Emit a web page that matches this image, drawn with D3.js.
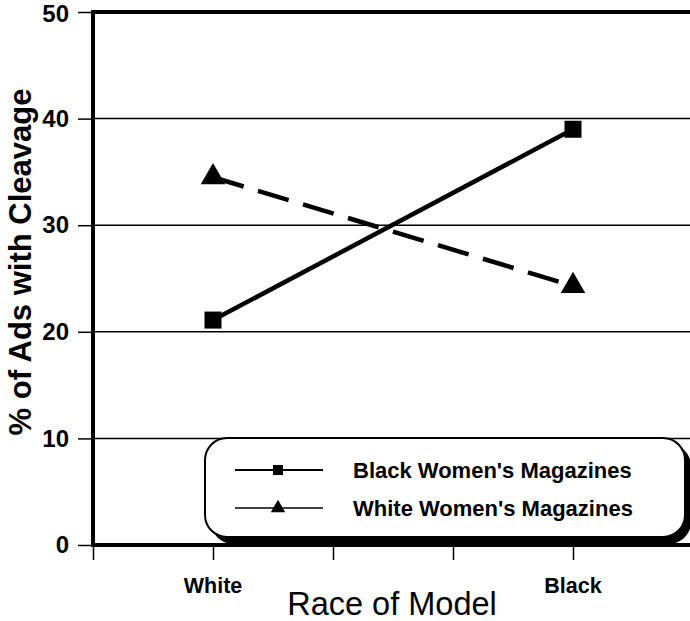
<!DOCTYPE html>
<html><head><meta charset="utf-8">
<script src="https://cdn.jsdelivr.net/npm/d3@7"></script>
<style>body{margin:0;background:#fff}svg{display:block}text{font-family:"Liberation Sans",Arial,sans-serif;fill:#000}</style>
</head><body>
<script>
const categories = ["White", "Black"];
const categoryPositions = [1, 4];
const seriesNames = ["Black Women's Magazines", "White Women's Magazines"];
const blackMagazines = [21.1, 39.0];
const whiteMagazines = [34.5, 24.3];
const yTicks = [0, 10, 20, 30, 40, 50];
const xTicks = [0, 1, 2, 3, 4, 5];

const W = 690, H = 621;
const svg = d3.select("body").append("svg").attr("width", W).attr("height", H);

const x = d3.scaleLinear().domain([0, 5]).range([93, 693]);
const y = d3.scaleLinear().domain([0, 50]).range([545, 12]);

// gridlines
svg.append("g").selectAll("line").data(yTicks.filter(d => d > 0 && d < 50)).join("line")
  .attr("x1", x(0)).attr("x2", W).attr("y1", d => y(d)).attr("y2", d => y(d))
  .attr("stroke", "#000").attr("stroke-width", 1.5);

// y axis
const yAxis = svg.append("g").attr("transform", `translate(${x(0)},0)`)
  .call(d3.axisLeft(y).tickValues(yTicks).tickSize(15).tickPadding(9));
yAxis.select(".domain").remove();
yAxis.selectAll(".tick line").attr("stroke-width", 1.5);
yAxis.selectAll(".tick text").attr("font-size", 24).attr("font-weight", "bold")
  .style("font-family", '"Liberation Sans",Arial,sans-serif');
yAxis.selectAll(".tick").filter(d => d === 50).select("text").attr("dy", "0.4em");

// x axis ticks
const xAxis = svg.append("g").attr("transform", `translate(0,${y(0)})`)
  .call(d3.axisBottom(x).tickValues(xTicks).tickSize(15).tickFormat(""));
xAxis.select(".domain").remove();
xAxis.selectAll(".tick line").attr("stroke-width", 1.5);

// x category labels
svg.append("g").selectAll("text").data(categories).join("text")
  .attr("x", (d, i) => x(categoryPositions[i]))
  .attr("y", 593).attr("text-anchor", "middle")
  .attr("font-size", 21.5).attr("font-weight", "bold").text(d => d);

// frame: left & top thick
svg.append("line").attr("x1", x(0)).attr("x2", x(0)).attr("y1", y(50) - 2).attr("y2", y(0) + 2)
  .attr("stroke", "#000").attr("stroke-width", 4);
svg.append("line").attr("x1", x(0) - 2).attr("x2", W).attr("y1", y(50)).attr("y2", y(50))
  .attr("stroke", "#000").attr("stroke-width", 4);

// legend
const lg = svg.append("g");
lg.append("rect").attr("x", 211).attr("y", 444).attr("width", 480).attr("height", 100)
  .attr("rx", 22).attr("fill", "#000");
lg.append("rect").attr("x", 205).attr("y", 438).attr("width", 480).attr("height", 99)
  .attr("rx", 22).attr("fill", "#fff").attr("stroke", "#000").attr("stroke-width", 2);

// bottom axis line
svg.append("line").attr("x1", x(0) - 2).attr("x2", W).attr("y1", y(0)).attr("y2", y(0))
  .attr("stroke", "#000").attr("stroke-width", 4);

const legendRows = [
  {name: seriesNames[0], sym: d3.symbolSquare, yy: 470, sw: 2},
  {name: seriesNames[1], sym: d3.symbolTriangle, yy: 508, sw: 1.5}
];
legendRows.forEach(r => {
  lg.append("line").attr("x1", 235).attr("x2", 323).attr("y1", r.yy).attr("y2", r.yy)
    .attr("stroke", "#000").attr("stroke-width", r.sw);
  lg.append("path").attr("d", d3.symbol().type(r.sym).size(r.sym === d3.symbolSquare ? 100 : 90)())
    .attr("transform", `translate(278,${r.yy})`).attr("fill", "#000");
  lg.append("text").attr("x", 353).attr("y", r.yy + 7.5).attr("font-size", 22)
    .attr("font-weight", "bold").text(r.name);
});

// series lines
const line = d3.line().x((d, i) => x(categoryPositions[i])).y(d => y(d));
svg.append("path").datum(whiteMagazines).attr("d", line).attr("fill", "none")
  .attr("stroke", "#000").attr("stroke-width", 4.5).attr("stroke-dasharray", "32,15");
svg.append("path").datum(blackMagazines).attr("d", line).attr("fill", "none")
  .attr("stroke", "#000").attr("stroke-width", 4.5);

svg.append("g").selectAll("rect").data(blackMagazines).join("rect")
  .attr("x", (d, i) => x(categoryPositions[i]) - 8.5).attr("y", d => y(d) - 8.5)
  .attr("width", 17).attr("height", 17).attr("fill", "#000");
svg.append("g").selectAll("path").data(whiteMagazines).join("path")
  .attr("d", d3.symbol().type(d3.symbolTriangle).size(260)())
  .attr("transform", (d, i) => `translate(${x(categoryPositions[i])},${y(d)})`).attr("fill", "#000");

// axis titles
svg.append("text").attr("x", 392).attr("y", 615).attr("text-anchor", "middle")
  .attr("font-size", 32.5).text("Race of Model");
svg.append("text").attr("transform", "translate(31,262) rotate(-90)").attr("text-anchor", "middle")
  .attr("font-size", 31).attr("font-weight", "bold").text("% of Ads with Cleavage");
</script>
</body></html>
